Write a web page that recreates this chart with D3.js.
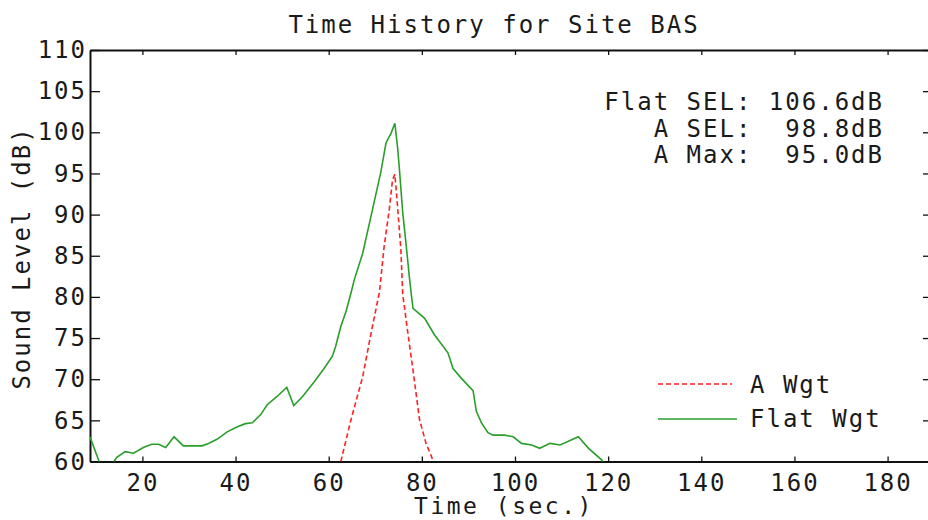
<!DOCTYPE html>
<html>
<head>
<meta charset="utf-8">
<script src="https://cdn.jsdelivr.net/npm/d3@7"></script>
<style>
  body { margin: 0; background: #fff; }
  text { font-family: "DejaVu Sans Mono", monospace; fill: #1a1a1a; }
</style>
</head>
<body>
<svg id="chart" width="928" height="520"></svg>
<script>
// Flat weighted time history (sec, dB)
var flatTime = [
  8.75, 10.7, 12.0, 13.9, 14.5, 16.3, 18.1, 20.2, 22.0, 23.5,
  25.0, 26.8, 28.8, 32.8, 34.2, 36.0, 38.2, 40.3, 42.1, 43.6,
  45.4, 46.8, 48.9, 51.0, 52.5, 54.4, 56.9, 59.0, 60.8, 61.5,
  62.6, 63.7, 64.8, 65.5, 67.3, 69.4, 71.2, 72.3, 73.4, 74.2,
  74.8, 75.2, 75.9, 76.6, 77.3, 77.8, 78.1, 80.6, 82.7, 85.6,
  86.7, 88.5, 91.0, 91.7, 92.8, 94.2, 95.3, 97.8, 99.6, 101.4,
  103.6, 105.3, 107.5, 109.7, 113.6, 115.8, 118.6, 120.5
];
var flatLevel = [
  63.0, 60.0, 58.5, 60.0, 60.5, 61.2, 61.0, 61.7, 62.1, 62.1,
  61.7, 63.0, 61.9, 61.9, 62.2, 62.7, 63.6, 64.2, 64.6, 64.7,
  65.7, 66.9, 67.9, 69.0, 66.8, 67.9, 69.7, 71.3, 72.8, 74.0,
  76.4, 78.2, 80.5, 82.1, 85.3, 90.6, 95.2, 98.7, 99.9, 101.1,
  98.1, 95.4, 90.2, 86.5, 82.5, 80.0, 78.6, 77.4, 75.4, 73.2,
  71.3, 70.1, 68.6, 66.1, 64.7, 63.5, 63.2, 63.2, 63.0, 62.2,
  62.0, 61.6, 62.2, 62.0, 63.0, 61.6, 60.2, 58.5
];

// A weighted time history (sec, dB)
var aTime = [
  62.6, 64.8, 67.3, 69.1, 70.9, 71.9, 73.0, 73.7, 74.2, 74.5,
  75.0, 75.5, 75.9, 77.0, 78.1, 79.5, 80.9, 82.5
];
var aLevel = [
  60.0, 65.1, 70.3, 75.6, 80.6, 86.1, 90.6, 94.2, 94.9, 93.0,
  89.4, 85.7, 80.3, 75.6, 71.1, 65.1, 62.2, 60.0
];

var xTicks = [20, 40, 60, 80, 100, 120, 140, 160, 180];
var yTicks = [60, 65, 70, 75, 80, 85, 90, 95, 100, 105, 110];

var summaryLines = ['Flat SEL: 106.6dB', 'A SEL:  98.8dB', 'A Max:  95.0dB'];
var legendItems = ['A Wgt', 'Flat Wgt'];

var svg = d3.select('#chart');

var plotLeft = 90, plotRight = 933, plotTop = 50, plotBottom = 461.5;

var x = d3.scaleLinear().domain([8.75, 189.75]).range([plotLeft, plotRight]);
var y = d3.scaleLinear().domain([60, 110]).range([plotBottom, plotTop]);

svg.append('defs').append('clipPath')
  .attr('id', 'plot-clip')
  .append('rect')
  .attr('x', plotLeft).attr('y', plotTop)
  .attr('width', plotRight - plotLeft).attr('height', plotBottom - plotTop);

function styleAxis(g) {
  g.attr('font-family', null).attr('font-size', null);
  g.selectAll('.tick line').attr('stroke', '#111').attr('stroke-width', 1.3);
  g.selectAll('text')
    .style('font-size', '24px')
    .style('letter-spacing', '2px')
    .attr('fill', '#222');
}

// axes, ticks pointing inward
svg.append('g')
  .attr('transform', 'translate(0,' + plotBottom + ')')
  .call(d3.axisBottom(x).tickValues(xTicks).tickSizeInner(-5).tickSizeOuter(0).tickPadding(12.5))
  .call(styleAxis);

svg.append('g')
  .attr('transform', 'translate(0,' + plotTop + ')')
  .call(d3.axisTop(x).tickValues(xTicks).tickSizeInner(-5).tickSizeOuter(0).tickFormat(''))
  .call(styleAxis);

svg.append('g')
  .attr('transform', 'translate(' + plotLeft + ',0)')
  .call(d3.axisLeft(y).tickValues(yTicks).tickSizeInner(-10).tickSizeOuter(0).tickPadding(3))
  .call(styleAxis);

svg.append('g')
  .attr('transform', 'translate(' + plotRight + ',0)')
  .call(d3.axisRight(y).tickValues(yTicks).tickSizeInner(-10).tickSizeOuter(0).tickFormat(''))
  .call(styleAxis);

svg.selectAll('.domain').attr('stroke', '#111').attr('stroke-width', 2);

// curves
var line = d3.line()
  .x(function(d) { return x(d[0]); })
  .y(function(d) { return y(d[1]); });

var plot = svg.append('g').attr('clip-path', 'url(#plot-clip)');

plot.append('path')
  .datum(d3.zip(flatTime, flatLevel))
  .attr('d', line)
  .attr('fill', 'none')
  .attr('stroke', '#2a9e2a')
  .attr('stroke-width', 1.6);

plot.append('path')
  .datum(d3.zip(aTime, aLevel))
  .attr('d', line)
  .attr('fill', 'none')
  .attr('stroke', '#ff2020')
  .attr('stroke-width', 1.6)
  .attr('stroke-dasharray', '5,3');

// title and axis labels
svg.append('text')
  .attr('x', 494).attr('y', 33)
  .attr('text-anchor', 'middle')
  .style('font-size', '24px')
  .style('letter-spacing', '2px')
  .text('Time History for Site BAS');

svg.append('text')
  .attr('x', 504).attr('y', 514)
  .attr('text-anchor', 'middle')
  .style('font-size', '23px')
  .style('letter-spacing', '2.5px')
  .text('Time (sec.)');

svg.append('text')
  .attr('transform', 'translate(30,258) rotate(-90)')
  .attr('text-anchor', 'middle')
  .style('font-size', '24px')
  .style('letter-spacing', '2px')
  .text('Sound Level (dB)');

// summary block
svg.selectAll('.summary')
  .data(summaryLines)
  .enter()
  .append('text')
  .attr('class', 'summary')
  .attr('x', 884)
  .attr('y', function(d, i) { return 110 + i * 26.5; })
  .attr('text-anchor', 'end')
  .style('white-space', 'pre')
  .style('font-size', '24px')
  .style('letter-spacing', '2px')
  .text(function(d) { return d; });

// legend
var legend = svg.append('g');
legend.append('line')
  .attr('x1', 658).attr('x2', 732).attr('y1', 384).attr('y2', 384)
  .attr('stroke', '#ff2020').attr('stroke-width', 1.6).attr('stroke-dasharray', '5,3');
legend.append('line')
  .attr('x1', 658).attr('x2', 737).attr('y1', 419).attr('y2', 419)
  .attr('stroke', '#2a9e2a').attr('stroke-width', 1.6);
legend.selectAll('.legend-label')
  .data(legendItems)
  .enter()
  .append('text')
  .attr('class', 'legend-label')
  .attr('x', 750)
  .attr('y', function(d, i) { return 393 + i * 34; })
  .style('font-size', '24px')
  .style('letter-spacing', '2px')
  .text(function(d) { return d; });
</script>
</body>
</html>
